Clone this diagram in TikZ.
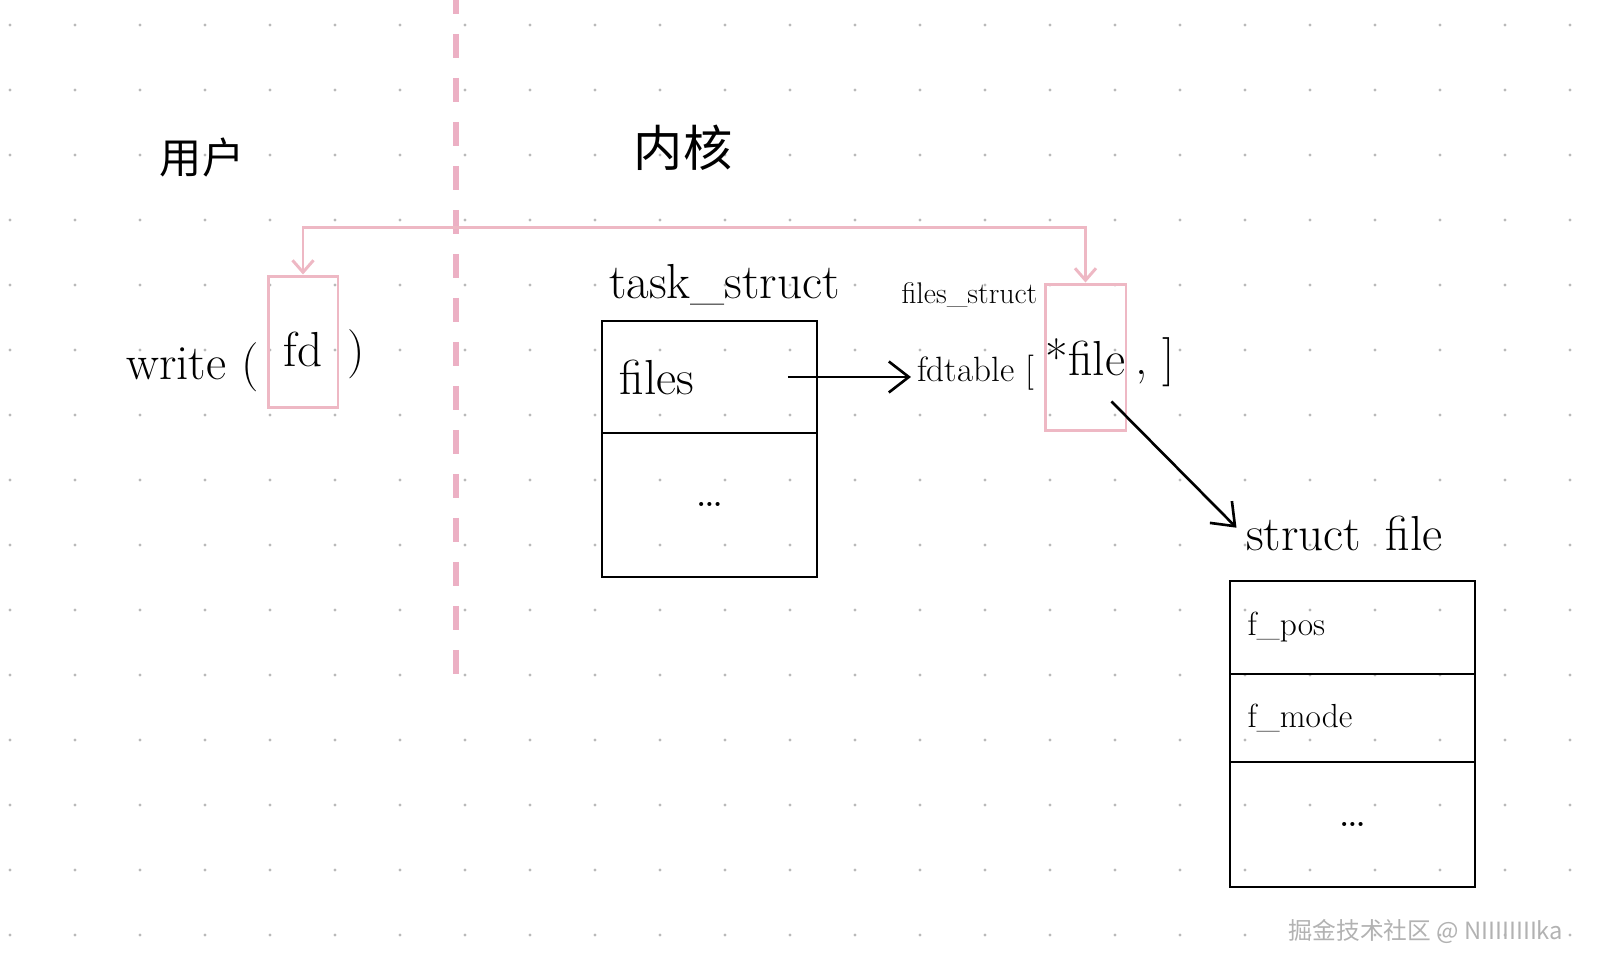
\documentclass[tikz,border=0pt]{standalone}
\usepackage{fontspec}
\newfontfamily\cjk{Noto Sans CJK SC}
\usetikzlibrary{positioning,arrows.meta}
\definecolor{pinkline}{RGB}{238,184,196}
\definecolor{pinkdash}{RGB}{236,176,196}

\begin{document}
\begin{tikzpicture}[x=0.02cm,y=-0.02cm,
  hand/.style={font=\fontsize{28}{32}\selectfont},
  small/.style={font=\fontsize{19}{22}\selectfont},
  pinkbox/.style={draw=pinkline,line width=1.7pt,minimum width=1.4cm,inner sep=0pt},
  field/.style={draw,line width=1.6pt,inner xsep=0.35cm,outer sep=0pt,align=left},
  blackarrow/.style={line width=1.5pt,-{Straight Barb[length=0.4cm,width=0.62cm]}},
  pinkarrow/.style={pinkline,line width=1.7pt,{Straight Barb[length=0.24cm,width=0.42cm]}-{Straight Barb[length=0.24cm,width=0.42cm]}}]
\useasboundingbox (0,0) rectangle (1599,972);

% dotted paper
\foreach \i in {0,...,24}
  \foreach \j in {0,...,14}
    \fill[gray!55] (10+65*\i,25+65*\j) circle (0.95pt);

% user space | kernel
\draw[pinkdash,line width=3.4pt,dash pattern=on 0.48cm off 0.4cm,dash phase=0.2cm] (456,0) -- (456,693);
\node[font=\cjk\fontsize{24}{28}\selectfont] (user) at (202,158) {用户};
\node[font=\cjk\fontsize{28}{32}\selectfont] (kernel) at (683,148) {内核};

% write(fd)
\node[pinkbox,hand,minimum height=2.64cm,text height=1.0cm] (fd) at (303,342) {fd};
\node[hand,left=1pt of fd,yshift=-0.5cm] (write) {write (};
\node[hand,right=1pt of fd,yshift=-0.24cm] (fdclose) {)};

% task_struct
\node[field,hand,text width=3.6cm,minimum height=2.24cm] (files) at (709.5,377) {files};
\node[field,hand,text width=3.6cm,minimum height=2.88cm,align=center,below=0pt of files] (taskmore) {\ldots};
\node[hand,above=0.2cm of files,xshift=0.3cm] (task) {task\_struct};

% files_struct
\node[pinkbox,hand,minimum width=1.62cm,minimum height=2.94cm] (filebox) at (1085.5,357.5) {*file};
\node[font=\fontsize{17}{20}\selectfont,left=0pt of filebox.north west,anchor=east,yshift=-0.25cm] (fstruct) {files\_struct};
\node[font=\fontsize{20}{24}\selectfont,left=2pt of filebox,yshift=-0.3cm] (fdtable) {fdtable [};
\node[hand,right=1pt of filebox,yshift=-0.1cm] (tableclose) {, ]};

% struct file
\node[field,small,text width=4.2cm,minimum height=1.86cm] (fpos) at (1352.5,627.5) {f\_pos};
\node[field,small,text width=4.2cm,minimum height=1.76cm,below=0pt of fpos] (fmode) {f\_mode};
\node[field,hand,text width=4.2cm,minimum height=2.5cm,align=center,below=0pt of fmode] (filemore) {\ldots};
\node[hand,anchor=west] (sfile) at (1240,533) {struct\enspace file};

% connectors
\draw[pinkarrow] (fd.north) -- ++(0,-47) -| (filebox.north);
\draw[blackarrow] ([xshift=-0.58cm]files.east) -- (fdtable.west |- files.east);
\draw[blackarrow] ([xshift=-0.32cm,yshift=0.62cm]filebox.south east) -- ([xshift=-2pt,yshift=3pt]sfile.west);

\node[font=\cjk\fontsize{13.5}{16}\selectfont,text=gray!60] (mark) at (1426,931) {掘金技术社区 @ NIIIIIIIIka};
\end{tikzpicture}
\end{document}
